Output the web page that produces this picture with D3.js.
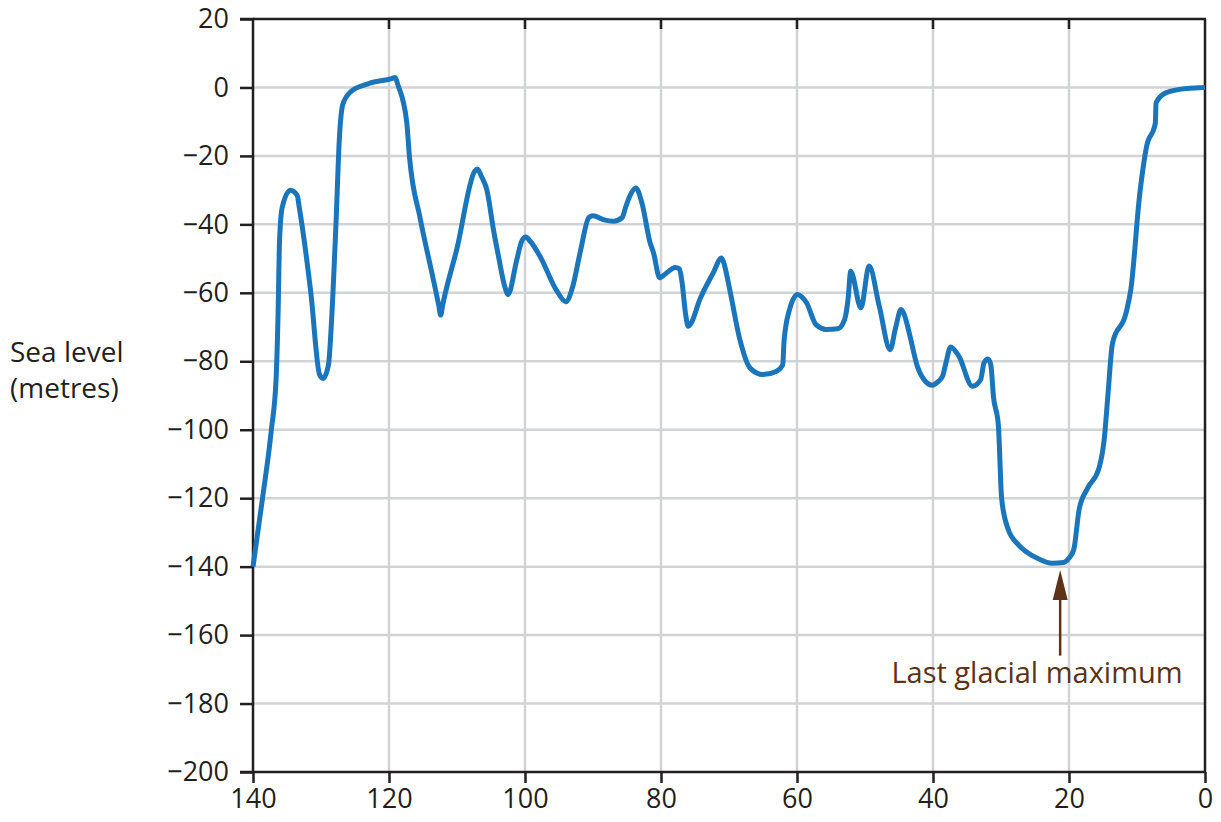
<!DOCTYPE html>
<html>
<head>
<meta charset="utf-8">
<script src="https://cdn.jsdelivr.net/npm/d3@7"></script>
<style>
  html, body { margin: 0; padding: 0; background: #ffffff; }
  svg { display: block; }
  text { font-family: "Open Sans", "Noto Sans", sans-serif; fill: #231f20; }
</style>
</head>
<body>
<svg id="chart" width="1221" height="822"></svg>
<script>
// ---- data (thousands of years ago, sea level in metres) ----
const ageKa = [140, 138.6, 137.3, 136.6, 136.3, 136.1, 135.7, 134.5, 133.5, 133.2,
  131.5, 130.2, 129.7, 128.9, 128.5, 127.8, 127.3, 126.8, 125.6, 123.2,
  119.6, 119.1, 118.7, 117.4, 117.0, 115.4, 113.6, 112.7, 112.4, 112.1,
  110.0, 107.4, 107.0, 106.4, 105.6, 104.6, 103.9, 103.0, 102.5, 101.2,
  100.5, 99.9, 99.2, 97.8, 95.3, 94.0, 93.0, 91.9, 90.6, 90.0,
  88.5, 87.0, 85.7, 85.2, 84.6, 83.7, 82.8, 81.6, 81.1, 80.2,
  79.2, 77.9, 77.3, 76.9, 76.4, 76.0, 75.6, 74.3, 72.3, 71.1,
  70.8, 69.9, 68.4, 66.9, 65.0, 63.0, 62.1, 61.9, 61.1, 59.9,
  59.3, 58.6, 57.2, 55.7, 54.0, 53.0, 52.5, 52.1, 50.6, 49.4,
  47.9, 46.3, 45.5, 44.7, 44.2, 43.5, 42.3, 41.1, 40.1, 39.3,
  38.6, 38.1, 37.4, 36.2, 34.2, 33.0, 32.5, 31.9, 31.5, 31.1,
  30.4, 29.9, 29.0, 27.5, 26.4, 24.5, 22.5, 20.8, 20.0, 19.3,
  18.5, 17.3, 15.6, 14.8, 14.3, 13.6, 11.6, 10.9, 9.6, 8.6,
  7.3, 7.2, 5.7, 2.7, 0];
const seaLevel = [-140, -120, -100, -85, -65, -45, -35, -30, -31.5, -35,
  -59.9, -84, -85, -81, -70, -40, -15, -5, -1.2, 1,
  2.6, 2.9, 0.8, -10, -20, -38.4, -55, -63.5, -66.5, -63.5,
  -47, -24.5, -23.8, -26, -30, -42, -49.3, -58, -60.5, -50.3,
  -45, -43.7, -45, -49.3, -59.5, -62.6, -58.3, -48.3, -38, -37.5,
  -38.6, -39.1, -38, -35, -31.8, -29.4, -33.8, -45.4, -48.3, -55.6,
  -54.2, -52.6, -53, -57, -66, -69.8, -69, -62, -54.1, -49.8,
  -51, -59, -73.7, -82, -83.9, -82.9, -81, -74, -64.9, -60.5,
  -61.2, -62.9, -69.3, -70.7, -70.5, -67.8, -62, -53.7, -64.4, -52.2,
  -63.9, -76.6, -70.2, -64.9, -66.5, -71.7, -81.5, -85.9, -87, -86,
  -84.4, -80.5, -75.8, -78.5, -87.3, -85.4, -80.5, -79.3, -81, -90.5,
  -98.4, -120.2, -128.8, -133.5, -135.5, -137.7, -139, -138.8, -137.5, -135,
  -123.2, -117.2, -111.3, -102.4, -90.5, -74.7, -65.8, -58.9, -31.2, -17.3,
  -10.4, -4.5, -1.5, -0.3, 0];

const xTicks = [140, 120, 100, 80, 60, 40, 20, 0];
const yTicks = [20, 0, -20, -40, -60, -80, -100, -120, -140, -160, -180, -200];
const yTitleLines = ["Sea level", "(metres)"];
const annotationText = "Last glacial maximum";
const annotationAge = 21.3;
const annotationArrow = [-166, -141];
const annotationLabel = { age: 24.7, level: -174 };

// ---- layout ----
const svg = d3.select("#chart");
const mL = 253, mR = 1205, mT = 19, mB = 772;
const ink = "#231f20", grid = "#d2d3d5", lineColor = "#1a75bb", brown = "#5c3317";

const x = d3.scaleLinear().domain([140, 0]).range([mL, mR]);
const y = d3.scaleLinear().domain([20, -200]).range([mT, mB]);

// grid
const g = svg.append("g");
g.selectAll("line.vg").data(xTicks.filter(d => d !== 140 && d !== 0)).join("line")
  .attr("x1", d => x(d)).attr("x2", d => x(d)).attr("y1", mT).attr("y2", mB)
  .attr("stroke", grid).attr("stroke-width", 2.5);
g.selectAll("line.hg").data(yTicks.filter(d => d !== 20 && d !== -200)).join("line")
  .attr("x1", mL).attr("x2", mR).attr("y1", d => y(d)).attr("y2", d => y(d))
  .attr("stroke", grid).attr("stroke-width", 2.5);

// border top/right
svg.append("line").attr("x1", mL).attr("x2", mR + 1).attr("y1", mT).attr("y2", mT)
  .attr("stroke", ink).attr("stroke-width", 2.5);
svg.append("line").attr("x1", mR).attr("x2", mR).attr("y1", mT).attr("y2", mB)
  .attr("stroke", ink).attr("stroke-width", 2.5);
// top inward ticks
svg.selectAll("line.tt").data(xTicks.filter(d => d !== 140 && d !== 0)).join("line")
  .attr("x1", d => x(d)).attr("x2", d => x(d)).attr("y1", mT).attr("y2", mT + 10)
  .attr("stroke", ink).attr("stroke-width", 2.5);

// axes
const yAxis = d3.axisLeft(y).tickValues(yTicks).tickSize(13).tickPadding(11)
  .tickFormat(d => d < 0 ? "\u2212" + Math.abs(d) : String(d));
const ya = svg.append("g").attr("transform", `translate(${mL},0)`).call(yAxis);
const xAxis = d3.axisBottom(x).tickValues(xTicks).tickSize(11).tickPadding(6)
  .tickFormat(d => String(d));
const xa = svg.append("g").attr("transform", `translate(0,${mB})`).call(xAxis);
[ya, xa].forEach(a => {
  a.select(".domain").attr("stroke", ink).attr("stroke-width", 2.5);
  a.selectAll(".tick line").attr("stroke", ink).attr("stroke-width", 2.5);
  a.selectAll(".tick text").attr("fill", ink)
    .style("font-family", '"Open Sans", "Noto Sans", sans-serif').style("font-size", "27px");
});
ya.select(".domain").attr("d", `M-13,${mT}H0V${mB}H-13`);
xa.select(".domain").attr("d", `M${mL},0H${mR}`);

// series line
const line = d3.line()
  .x(d => x(d[0])).y(d => y(d[1]))
  .curve(d3.curveMonotoneX);
svg.append("path")
  .datum(ageKa.map((a, i) => [a, seaLevel[i]]))
  .attr("d", line)
  .attr("fill", "none").attr("stroke", lineColor).attr("stroke-width", 5)
  .attr("stroke-linejoin", "round").attr("stroke-linecap", "butt");

// y title
const yt = svg.append("text").attr("x", 10).attr("y", 362).style("font-size", "28px");
yTitleLines.forEach((t, i) => yt.append("tspan").attr("x", 10).attr("dy", i === 0 ? 0 : 36).text(t));

// annotation
const ax = x(annotationAge);
svg.append("line").attr("x1", ax).attr("x2", ax)
  .attr("y1", y(annotationArrow[0])).attr("y2", y(annotationArrow[1]) + 14)
  .attr("stroke", brown).attr("stroke-width", 2.5);
const tipY = y(annotationArrow[1]);
svg.append("path")
  .attr("d", `M${ax},${tipY}L${ax - 7.5},${tipY + 30}L${ax + 7.5},${tipY + 30}Z`)
  .attr("fill", brown);
svg.append("text").attr("x", x(annotationLabel.age)).attr("y", y(annotationLabel.level))
  .attr("text-anchor", "middle").style("font-size", "29px").style("fill", brown)
  .text(annotationText);
</script>
</body>
</html>
